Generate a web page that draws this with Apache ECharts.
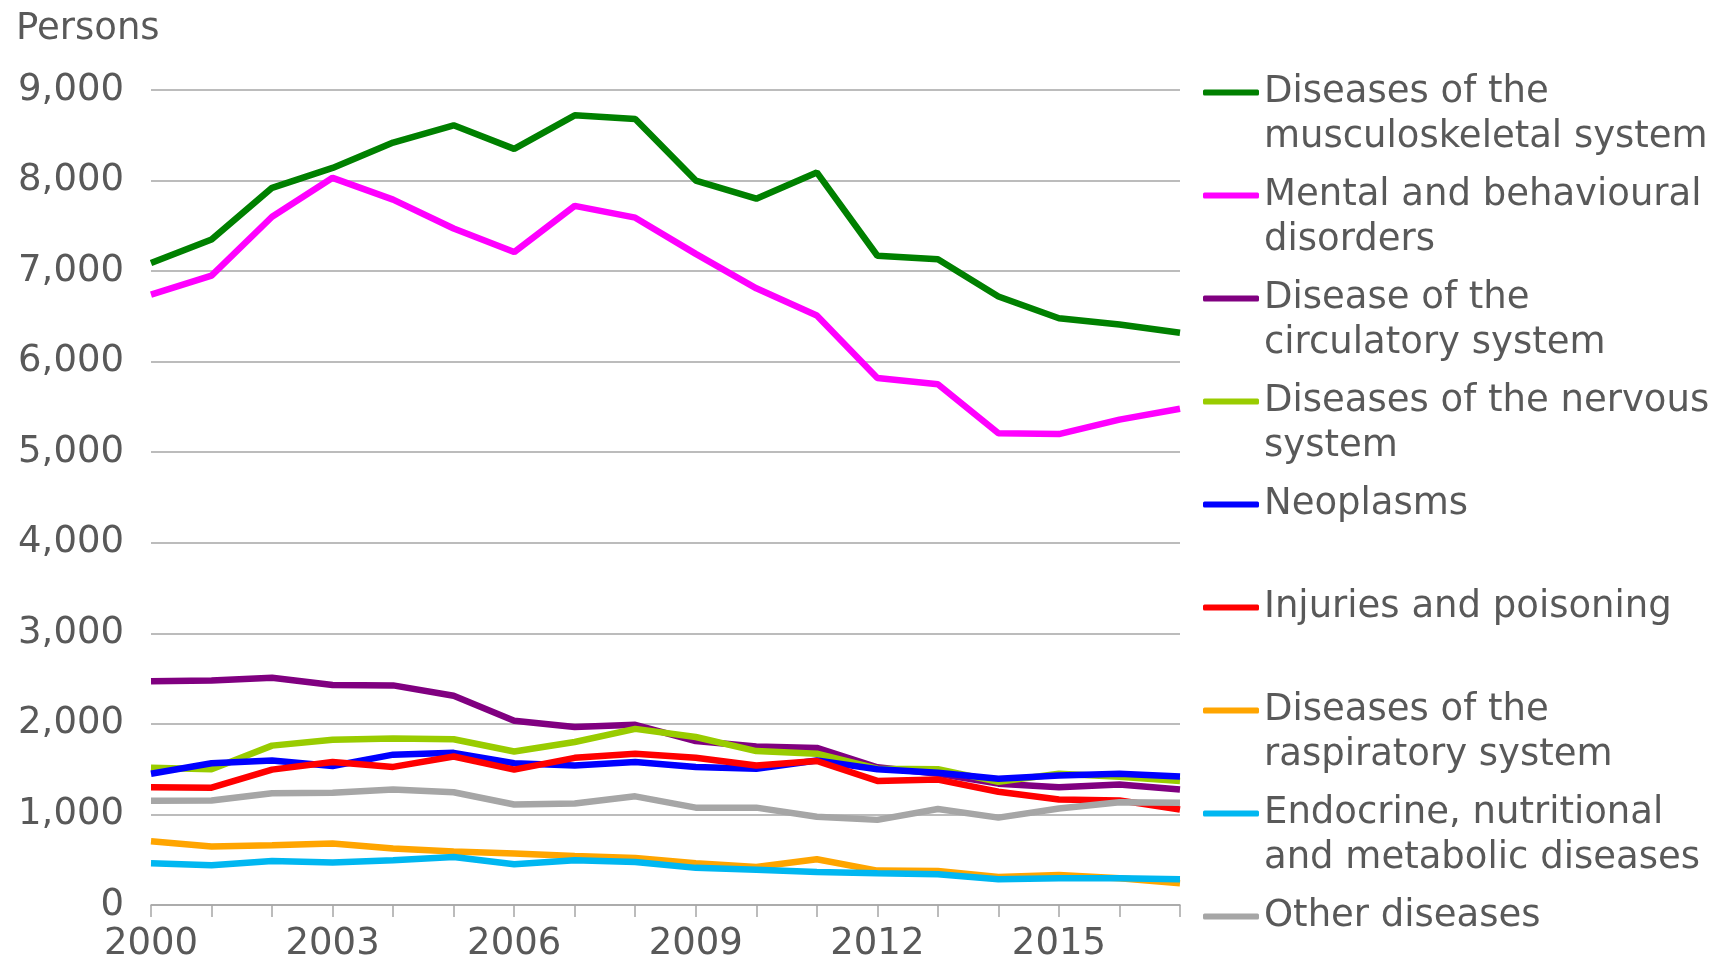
<!DOCTYPE html>
<html>
<head>
<meta charset="utf-8">
<title>Persons by diagnosis</title>
<script src="https://cdn.jsdelivr.net/npm/echarts@6/dist/echarts.min.js"></script>
<style>
  html, body { margin: 0; padding: 0; background: #fff; }
  #chart { width: 1717px; height: 963px; }
</style>
</head>
<body>
<div id="chart"></div>
<script>
// data
const years = ['2000', '2001', '2002', '2003', '2004', '2005', '2006', '2007', '2008',
  '2009', '2010', '2011', '2012', '2013', '2014', '2015', '2016', '2017'];

const musculoskeletal = [7090, 7350, 7920, 8140, 8420, 8610, 8350, 8720, 8680, 8000, 7800, 8090, 7170, 7130, 6720, 6480, 6410, 6320];
const mental = [6740, 6950, 7600, 8030, 7790, 7470, 7210, 7720, 7590, 7190, 6810, 6510, 5820, 5750, 5210, 5200, 5360, 5480];
const circulatory = [2470, 2480, 2510, 2430, 2425, 2310, 2035, 1965, 1990, 1810, 1750, 1735, 1520, 1450, 1340, 1300, 1330, 1275];
const nervous = [1515, 1500, 1760, 1825, 1840, 1830, 1695, 1800, 1945, 1855, 1700, 1670, 1505, 1500, 1360, 1450, 1415, 1370];
const neoplasms = [1450, 1565, 1595, 1535, 1660, 1680, 1565, 1540, 1580, 1525, 1505, 1595, 1500, 1460, 1395, 1430, 1450, 1420];
const injuries = [1300, 1295, 1495, 1580, 1525, 1640, 1495, 1625, 1670, 1625, 1540, 1590, 1370, 1385, 1250, 1165, 1155, 1055];
const respiratory = [705, 645, 660, 680, 625, 590, 570, 540, 520, 460, 420, 505, 380, 375, 310, 330, 295, 240];
const endocrine = [460, 440, 485, 470, 495, 530, 450, 495, 475, 410, 390, 365, 350, 340, 285, 295, 295, 285];
const other = [1150, 1155, 1235, 1240, 1275, 1245, 1110, 1120, 1200, 1075, 1075, 975, 940, 1060, 965, 1065, 1135, 1130];

const names = [
  'Diseases of the\nmusculoskeletal system',
  'Mental and behavioural\ndisorders',
  'Disease of the\ncirculatory system',
  'Diseases of the nervous\nsystem',
  'Neoplasms',
  'Injuries and poisoning',
  'Diseases of the\nraspiratory system',
  'Endocrine, nutritional\nand metabolic diseases',
  'Other diseases'
];
const values = [musculoskeletal, mental, circulatory, nervous, neoplasms, injuries, respiratory, endocrine, other];
const colors = ['#008000', '#ff00ff', '#800080', '#99cc00', '#0000ff', '#ff0000', '#ffa500', '#00b7f1', '#a6a6a6'];

const textColor = '#595959';
const gridColor = '#a6a6a6';
const fontSize = 37;

const chart = echarts.init(document.getElementById('chart'), null, { renderer: 'canvas' });

chart.setOption({
  animation: false,
  color: colors,
  textStyle: { fontFamily: 'DejaVu Sans', color: textColor },
  title: {
    text: 'Persons',
    left: 16,
    top: 11,
    padding: 0,
    textStyle: { fontSize: fontSize, fontWeight: 'normal', color: textColor, fontFamily: 'DejaVu Sans' }
  },
  grid: { left: 151, right: 537, top: 90, bottom: 54 },
  legend: {
    orient: 'vertical',
    left: 1203,
    top: 25,
    height: 1000, // keep all items in one column
    padding: 0,
    itemGap: -32, // every item is 3 lines tall, first text line sits on the icon
    itemWidth: 56,
    itemHeight: 6,
    icon: 'roundRect',
    selectedMode: false,
    // pad so the first line of the label lines up with the icon
    formatter: function (name) {
      return name.indexOf('\n') >= 0 ? '\n' + name : '\n' + name + '\n';
    },
    textStyle: { fontSize: fontSize, lineHeight: 45, color: textColor, fontFamily: 'DejaVu Sans' },
    data: names
  },
  xAxis: {
    type: 'category',
    data: years,
    boundaryGap: false,
    axisLine: { lineStyle: { color: gridColor, width: 1.5 } },
    axisTick: { show: true, interval: 0, length: 12, lineStyle: { color: gridColor, width: 1.5 } },
    axisLabel: { interval: 2, fontSize: fontSize, color: textColor, margin: 21 },
    splitLine: { show: false }
  },
  yAxis: {
    type: 'value',
    min: 0,
    max: 9000,
    interval: 1000,
    axisLine: { show: false },
    axisTick: { show: false },
    axisLabel: {
      fontSize: fontSize,
      color: textColor,
      margin: 27,
      formatter: v => v.toLocaleString('en-US')
    },
    splitLine: { lineStyle: { color: gridColor, width: 1.5 } }
  },
  series: names.map((n, i) => ({
    name: n,
    type: 'line',
    data: values[i],
    symbol: 'none',
    lineStyle: { width: 6.5, color: colors[i] },
    itemStyle: { color: colors[i] }
  }))
});
</script>
</body>
</html>
